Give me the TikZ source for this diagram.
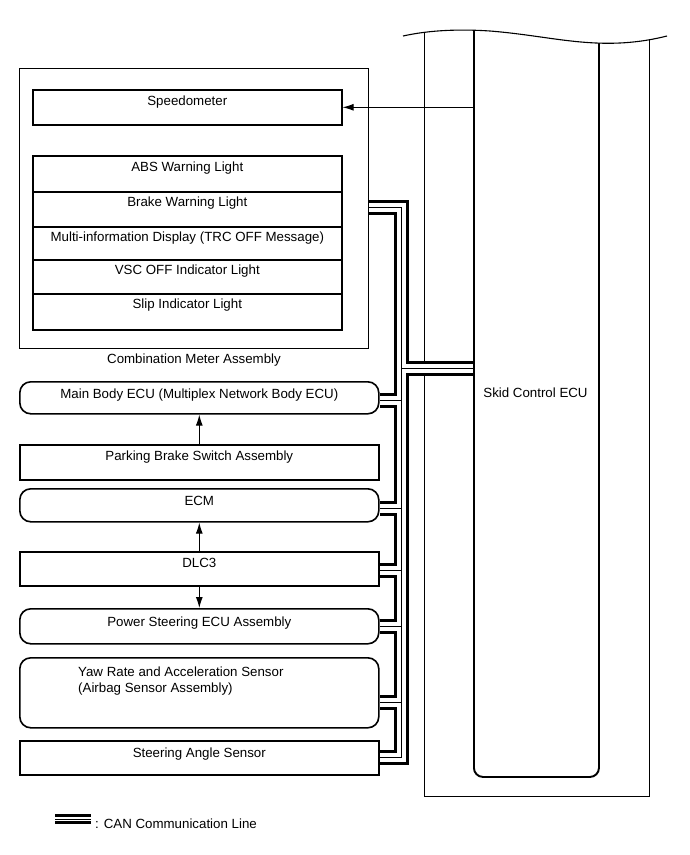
\documentclass[tikz,border=0pt]{standalone}
\usepackage{fontspec}
\setmainfont{Liberation Sans}
\usetikzlibrary{arrows.meta}
\begin{document}
\begin{tikzpicture}[x=1pt,y=-1pt,
  txt/.style={font=\fontsize{13.3}{16}\selectfont, inner sep=0pt},
  thinbox/.style={draw, line width=1pt, inner sep=0pt, anchor=north west},
  sqbox/.style={draw, line width=1.6pt, inner sep=0pt, anchor=north west},
  rbox/.style={draw, line width=1.6pt, rounded corners=11pt, inner sep=0pt, anchor=north west},
  arr/.style={line width=1pt, -{Latex[length=11pt,width=7pt]}},
]
\useasboundingbox (0,0) rectangle (690,855);

% Skid control ECU (drawn first, top hidden by wave)
\node[draw, line width=1.2pt, inner sep=0pt, anchor=north west, minimum width=225pt, minimum height=816pt] (ecuout) at (424,-20) {};
\node[draw, line width=1.9pt, rounded corners=9pt, inner sep=0pt, anchor=north west, minimum width=125pt, minimum height=796pt] (ecu) at (473,-20) {};
\fill[white] (395,-5) -- (675,-5) -- (675,36) -- (667,36) .. controls (655,39) and (640,42) .. (620,43) .. controls (575,45) and (540,35) .. (490,31) .. controls (460,29) and (430,30) .. (403,36) -- (395,36) -- cycle;
\draw[line width=1.1pt] (403,36) .. controls (430,30) and (460,29) .. (490,31) .. controls (540,35) and (575,45) .. (620,43) .. controls (640,42) and (655,39) .. (667,36);
\node[txt, anchor=base] (tecu) at (535.5,397) {Skid Control ECU};

% Combination meter
\node[thinbox, minimum width=349pt, minimum height=280pt] (comb) at (19,68) {};
\node[txt, anchor=base] (tcomb) at ([yshift=-14pt]comb.south) {Combination Meter Assembly};
\node[sqbox, minimum width=309pt, minimum height=35pt] (speedo) at (32,89) {};
\node[sqbox, minimum width=309pt, minimum height=36pt] (abs) at (32,155) {};
\node[sqbox, minimum width=309pt, minimum height=35pt] (brake) at (32,191) {};
\node[sqbox, minimum width=309pt, minimum height=33pt] (mid) at (32,226) {};
\node[sqbox, minimum width=309pt, minimum height=34pt] (vsc) at (32,259) {};
\node[sqbox, minimum width=309pt, minimum height=36pt] (slip) at (32,293) {};
\node[txt, anchor=base] at ([yshift=-16pt]speedo.north) {Speedometer};
\node[txt, anchor=base] at ([yshift=-16pt]abs.north) {ABS Warning Light};
\node[txt, anchor=base] at ([yshift=-15pt]brake.north) {Brake Warning Light};
\node[txt, anchor=base] at ([yshift=-15pt]mid.north) {Multi-information Display (TRC OFF Message)};
\node[txt, anchor=base] at ([yshift=-15pt]vsc.north) {VSC OFF Indicator Light};
\node[txt, anchor=base] at ([yshift=-15pt]slip.north) {Slip Indicator Light};

% left column
\node[rbox, minimum width=359pt, minimum height=32pt] (mb) at (19,381) {};
\node[sqbox, minimum width=359pt, minimum height=35pt] (pbs) at (19,444) {};
\node[rbox, minimum width=359pt, minimum height=33pt] (ecm) at (19,488) {};
\node[sqbox, minimum width=359pt, minimum height=34pt] (dlc) at (19,551) {};
\node[rbox, minimum width=359pt, minimum height=35pt] (ps) at (19,608) {};
\node[rbox, minimum width=359pt, minimum height=70pt] (yaw) at (19,657) {};
\node[sqbox, minimum width=359pt, minimum height=34pt] (sas) at (19,740) {};
\node[txt, anchor=base] at ([yshift=-17pt]mb.north) {Main Body ECU (Multiplex Network Body ECU)};
\node[txt, anchor=base] at ([yshift=-16pt]pbs.north) {Parking Brake Switch Assembly};
\node[txt, anchor=base] at ([yshift=-17pt]ecm.north) {ECM};
\node[txt, anchor=base] at ([yshift=-16pt]dlc.north) {DLC3};
\node[txt, anchor=base] at ([yshift=-18pt]ps.north) {Power Steering ECU Assembly};
\node[txt, anchor=base west] at (78,676) {Yaw Rate and Acceleration Sensor};
\node[txt, anchor=base west] at (78,692) {(Airbag Sensor Assembly)};
\node[txt, anchor=base] at ([yshift=-17pt]sas.north) {Steering Angle Sensor};

% arrows
\draw[arr] (speedo.east -| ecu.west) -- (speedo.east);
\draw[arr] (pbs.north) -- (mb.south);
\draw[arr] (dlc.north) -- (ecm.south);
\draw[arr] (dlc.south) -- (ps.north);

% CAN bus
\coordinate (jtop) at (401,207.5);
\coordinate (jecu) at (401,368);
\coordinate (jmb) at (401,400);
\coordinate (jecm) at (401,508);
\coordinate (jdlc) at (401,570);
\coordinate (jps) at (401,626);
\coordinate (jyaw) at (401,702);
\coordinate (jbot) at (401,757);
\newcommand\canlayer[2]{%
  \draw[line width=#1, draw=#2, line join=miter]
    (comb.east |- jtop) -- (jtop) -- (jbot) -- (sas.east |- jbot)
    (jecu) -- (ecu.west |- jecu)
    (jmb) -- (mb.east |- jmb)
    (jecm) -- (ecm.east |- jecm)
    (jdlc) -- (dlc.east |- jdlc)
    (jps) -- (ps.east |- jps)
    (jyaw) -- (yaw.east |- jyaw);}
\canlayer{15pt}{black}
\canlayer{9pt}{white}
\canlayer{1pt}{black}

% legend
\coordinate (lg1) at (55,819);
\coordinate (lg2) at (91,819);
\draw[line width=10pt] (lg1) -- (lg2);
\draw[line width=4.6pt, white] (lg1) -- (lg2);
\draw[line width=1pt] (lg1) -- (lg2);
\node[txt, anchor=base west] (lgt) at (95,828) {: CAN Communication Line};
\end{tikzpicture}
\end{document}
